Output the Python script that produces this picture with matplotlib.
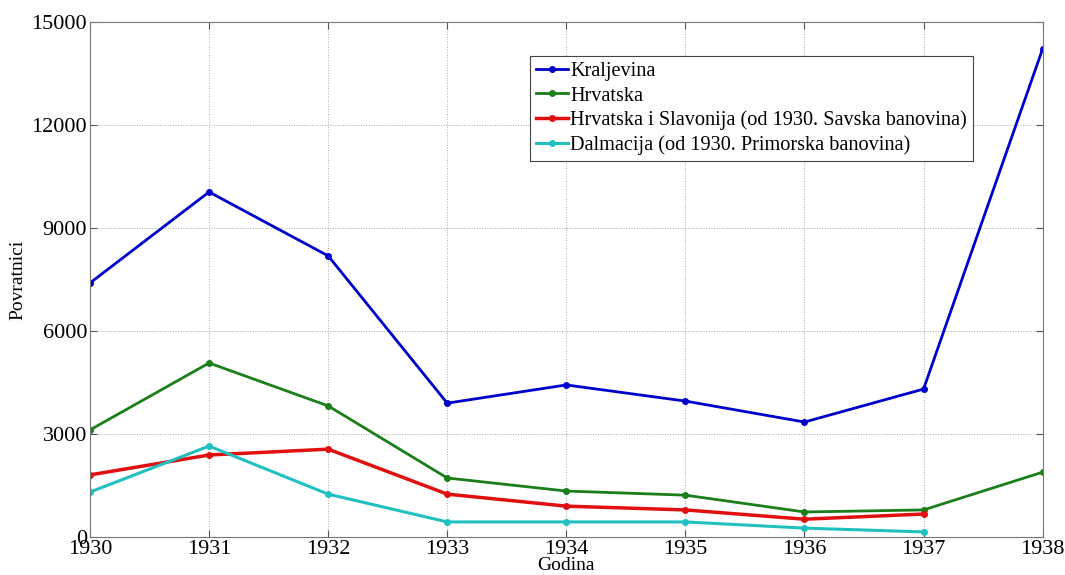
import numpy as np
import matplotlib
matplotlib.use("Agg")
import matplotlib.pyplot as plt

plt.rcParams['font.family'] = ['Liberation Serif', 'DejaVu Serif']

years = [1930, 1931, 1932, 1933, 1934, 1935, 1936, 1937, 1938]
kraljevina = [7400, 10050, 8190, 3900, 4430, 3960, 3350, 4310, 14220]
hrvatska = [3120, 5070, 3820, 1720, 1340, 1220, 730, 790, 1890]
hrv_slav = [1810, 2390, 2560, 1250, 900, 790, 520, 670]
dalmacija = [1310, 2650, 1250, 440, 440, 440, 260, 150]

labels = ['Kraljevina', 'Hrvatska',
          'Hrvatska i Slavonija (od 1930. Savska banovina)',
          'Dalmacija (od 1930. Primorska banovina)']

fig = plt.figure(figsize=(10.65, 5.75), dpi=100)
ax = fig.add_axes([0.0845, 0.066, 0.8945, 0.8957])

ax.plot(years, kraljevina, color='#0000cc', lw=2, marker='o', ms=4, label=labels[0])
ax.plot(years, hrvatska, color='#1a7f1a', lw=2, marker='o', ms=4, label=labels[1])
ax.plot(years[:8], hrv_slav, color='#e01010', lw=2.5, marker='o', ms=4, label=labels[2])
ax.plot(years[:8], dalmacija, color='#20c0c0', lw=2.2, marker='o', ms=4, label=labels[3])

ax.set_xlim(1930, 1938)
ax.set_ylim(0, 15000)
ax.set_xticks(years)
ax.set_yticks(np.arange(0, 15001, 3000))
ax.grid(True, ls=':', color='#aaaaaa', lw=0.7)
ax.tick_params(direction='in', top=True, right=True, labelsize=16, length=5,
               color='#555555', pad=2)
for s in ax.spines.values():
    s.set_color('#777777')
ax.set_xlabel('Godina', fontsize=14, labelpad=-1)
ax.set_ylabel('Povratnici', fontsize=14, labelpad=4)

leg = ax.legend(loc='upper left', bbox_to_anchor=(0.4617, 0.934), fontsize=14.6,
                handlelength=1.6, handletextpad=0.1, labelspacing=0.25,
                borderpad=0.3, borderaxespad=0, fancybox=False, framealpha=1,
                edgecolor='#444444')
leg.get_frame().set_linewidth(0.8)

fig.savefig('out.png', dpi=100)
